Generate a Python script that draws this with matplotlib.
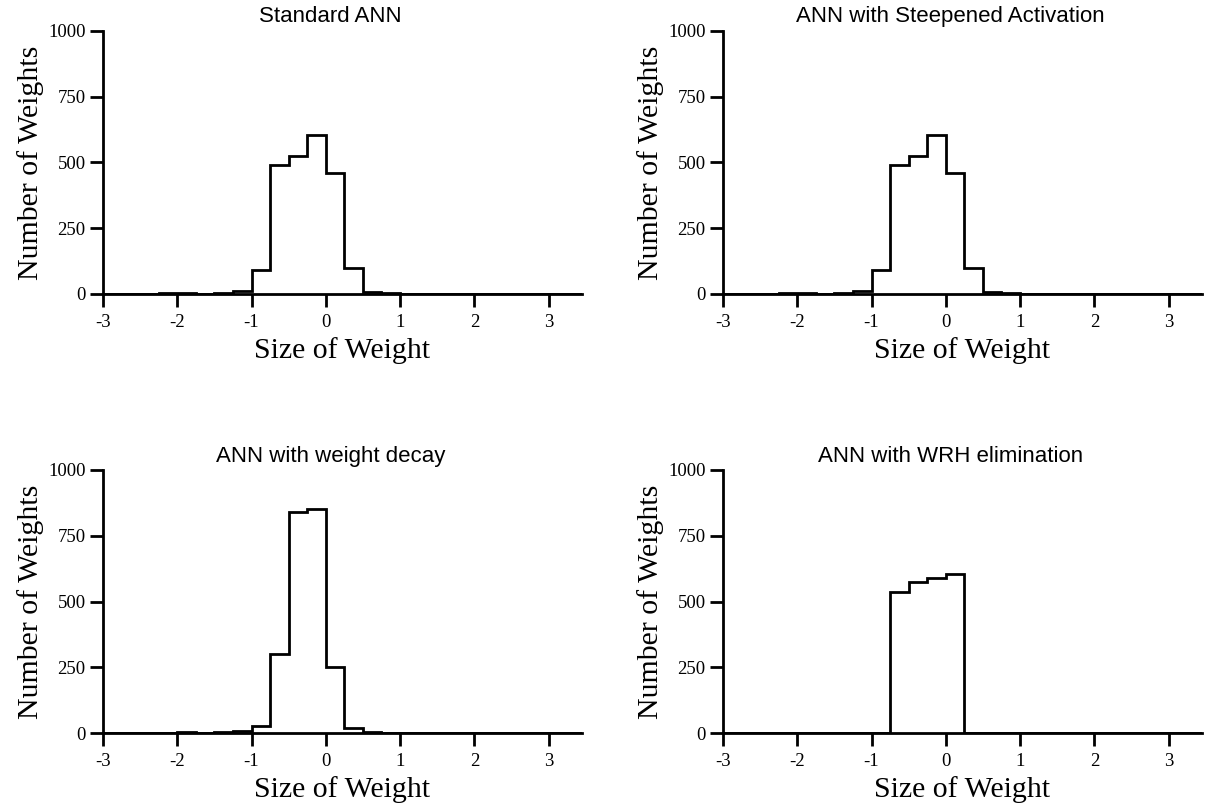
import matplotlib
matplotlib.use("Agg")
import matplotlib.pyplot as plt
import numpy as np

# ---- data ----
bin_start = -3.0
bin_width = 0.25
titles = ["Standard ANN", "ANN with Steepened Activation",
          "ANN with weight decay", "ANN with WRH elimination"]
counts_standard = [0, 0, 0, 2, 2, 1, 4, 12, 93, 491, 524, 605, 458, 97, 8, 2,
                   0, 0, 0, 1, 0, 0, 1, 0, 0, 0]
counts_steepened = [0, 0, 0, 2, 2, 1, 4, 12, 93, 491, 524, 605, 458, 97, 8, 2,
                    0, 0, 0, 1, 0, 0, 1, 0, 0, 0]
counts_decay = [0, 0, 0, 0, 2, 1, 2, 7, 27, 299, 842, 850, 251, 19, 4, 1,
                0, 0, 0, 0, 0, 0, 0, 0, 0, 0]
counts_wrh = [0, 0, 0, 0, 0, 0, 0, 0, 0, 536, 575, 589, 603, 0, 0, 0,
              0, 0, 0, 0, 0, 0, 0, 0, 0, 0]
x_ticks = [-3, -2, -1, 0, 1, 2, 3]
y_ticks = [0, 250, 500, 750, 1000]
xlabel = "Size of Weight"
ylabel = "Number of Weights"

all_counts = [counts_standard, counts_steepened, counts_decay, counts_wrh]

fig = plt.figure(figsize=(12.07, 8.06), dpi=100)
W, H = 1207, 806
ax_w = (582 - 103) / W
positions = [
    (103 / W, 1 - 294 / H, ax_w, (294 - 30.7) / H),
    (723 / W, 1 - 294 / H, ax_w, (294 - 30.7) / H),
    (103 / W, 1 - 733 / H, ax_w, (733 - 470) / H),
    (723 / W, 1 - 733 / H, ax_w, (733 - 470) / H),
]

serif = ["Liberation Serif", "DejaVu Serif"]
sans = ["Liberation Sans", "DejaVu Sans"]

for pos, title, counts in zip(positions, titles, all_counts):
    ax = fig.add_axes(pos)
    counts = np.asarray(counts, dtype=float)
    edges = bin_start + bin_width * np.arange(len(counts) + 1)
    ax.stairs(counts, edges, color="black", linewidth=2.0, baseline=0)
    ax.set_xlim(-3, 3.45)
    ax.set_ylim(0, 1000)
    for s in ("top", "right"):
        ax.spines[s].set_visible(False)
    for s in ("left", "bottom"):
        ax.spines[s].set_linewidth(2.0)
    ax.set_xticks(x_ticks)
    ax.set_xticklabels([str(t) for t in x_ticks])
    ax.set_yticks(y_ticks)
    ax.set_yticklabels([str(t) for t in y_ticks])
    ax.tick_params(direction="out", length=9.5, width=2.0, labelsize=13.5)
    ax.tick_params(axis="x", pad=5)
    ax.tick_params(axis="y", pad=3)
    for lab in ax.get_xticklabels() + ax.get_yticklabels():
        lab.set_fontfamily(serif)
    ax.set_xlabel(xlabel, fontsize=21.5, family=serif, labelpad=4)
    ax.set_ylabel(ylabel, fontsize=21.5, family=serif, labelpad=3)
    ax.set_title(title, fontsize=16, family=sans, pad=6, x=0.475)

fig.savefig("out.png", dpi=100)
